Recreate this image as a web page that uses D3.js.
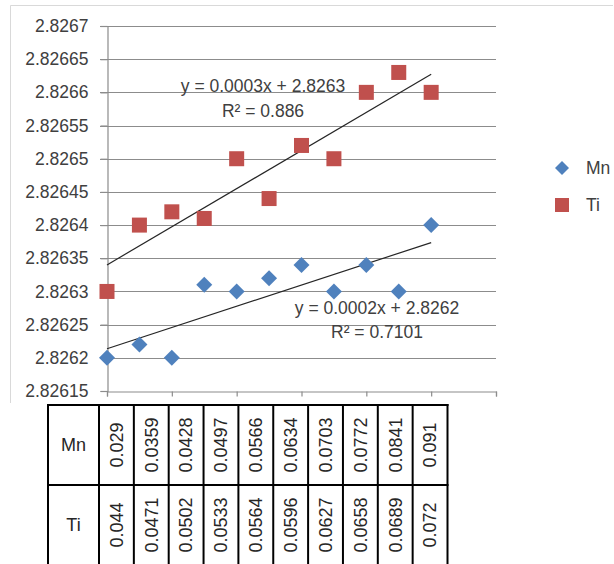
<!DOCTYPE html>
<html><head><meta charset="utf-8">
<script src="https://cdn.jsdelivr.net/npm/d3@7"></script>
<style>
html,body{margin:0;padding:0;background:#fff;}
svg{display:block;}
</style></head>
<body><svg id="c" width="614" height="564"></svg>
<script>
const xIndex = [0,1,2,3,4,5,6,7,8,9,10];
const mnY = [2.8262,2.82622,2.8262,2.82631,2.8263,2.82632,2.82634,2.8263,2.82634,2.8263,2.8264];
const tiY = [2.8263,2.8264,2.82642,2.82641,2.8265,2.82644,2.82652,2.8265,2.8266,2.82663,2.8266];
const yTicks = [2.82615,2.8262,2.82625,2.8263,2.82635,2.8264,2.82645,2.8265,2.82655,2.8266,2.82665,2.8267];
const yTickLabels = ["2.82615","2.8262","2.82625","2.8263","2.82635","2.8264","2.82645","2.8265","2.82655","2.8266","2.82665","2.8267"];
const xTicks = [0,2,4,6,8,10,12];
const seriesNames = ["Mn","Ti"];
const seriesColors = ["#4F81BD","#C0504D"];
const tableMn = ["0.029","0.0359","0.0428","0.0497","0.0566","0.0634","0.0703","0.0772","0.0841","0.091"];
const tableTi = ["0.044","0.0471","0.0502","0.0533","0.0564","0.0596","0.0627","0.0658","0.0689","0.072"];
const eqLabels = ["y = 0.0002x + 2.8262","y = 0.0003x + 2.8263"];
const r2Labels = ["R² = 0.7101","R² = 0.886"];

const svg = d3.select("#c");
const x = d3.scaleLinear().domain([0,12]).range([107,496]);
const y = d3.scaleLinear().domain([2.82615,2.8267]).range([391,26]);
const font = "'Liberation Sans', Arial, sans-serif";

// chart border (top/left)
svg.append("path").attr("d","M10.5,403 V5.5 H613").attr("fill","none").attr("stroke","#d9d9d9");

// gridlines
svg.append("g").selectAll("line").data(yTicks.slice(1)).join("line")
  .attr("x1",100).attr("x2",496).attr("y1",d=>Math.round(y(d))+0.5).attr("y2",d=>Math.round(y(d))+0.5)
  .attr("stroke","#8c8c8c").attr("stroke-width",1.2);

// y axis
const yAxis = svg.append("g").attr("transform","translate(107.5,0)")
  .call(d3.axisLeft(y).tickValues(yTicks).tickFormat((d,i)=>yTickLabels[i]).tickSize(7).tickPadding(12));
yAxis.select(".domain").attr("stroke","#8c8c8c").attr("stroke-width",1.2);
yAxis.selectAll(".tick line").attr("stroke","#8c8c8c").attr("stroke-width",1.2);
yAxis.selectAll("text").attr("font-family",font).attr("font-size",17.5).attr("fill","#404040");

// x axis
const xAxis = svg.append("g").attr("transform","translate(0,391.5)")
  .call(d3.axisBottom(x).tickValues(xTicks).tickFormat("").tickSizeInner(5).tickSizeOuter(5));
xAxis.select(".domain").attr("stroke","#8c8c8c").attr("stroke-width",1.2);
xAxis.selectAll(".tick line").attr("stroke","#8c8c8c").attr("stroke-width",1.2);

// trendlines
function fit(ys){
  const mx=d3.mean(xIndex), my=d3.mean(ys);
  let sxy=0,sxx=0; xIndex.forEach((xv,i)=>{sxy+=(xv-mx)*(ys[i]-my);sxx+=(xv-mx)**2;});
  const b=sxy/sxx; return {b, a:my-b*mx};
}
[mnY,tiY].forEach(ys=>{
  const f=fit(ys); const x0=d3.min(xIndex), x1=d3.max(xIndex);
  svg.append("line").attr("x1",x(x0)).attr("y1",y(f.a+f.b*x0)).attr("x2",x(x1)).attr("y2",y(f.a+f.b*x1))
    .attr("stroke","#262626").attr("stroke-width",1.2);
});

// trendline labels
const lab = svg.append("g").attr("font-family",font).attr("font-size",17.5).attr("fill","#404040").attr("text-anchor","middle");
lab.append("text").attr("x",263).attr("y",92).text(eqLabels[1]);
lab.append("text").attr("x",263).attr("y",117).text(r2Labels[1]);
lab.append("text").attr("x",377).attr("y",314).text(eqLabels[0]);
lab.append("text").attr("x",377).attr("y",338).text(r2Labels[0]);

// markers
const diamond = "M0,-8L8,0L0,8L-8,0Z";
svg.append("g").selectAll("path").data(mnY).join("path")
  .attr("d",diamond).attr("transform",(d,i)=>`translate(${x(xIndex[i])},${y(d)})`).attr("fill",seriesColors[0]);
svg.append("g").selectAll("rect").data(tiY).join("rect")
  .attr("x",(d,i)=>x(xIndex[i])-7.5).attr("y",d=>y(d)-7.5).attr("width",15).attr("height",15).attr("fill",seriesColors[1]);

// legend
const leg = svg.append("g").attr("font-family",font).attr("font-size",17.5).attr("fill","#404040");
leg.append("path").attr("d","M0,-7L7,0L0,7L-7,0Z").attr("transform","translate(562,168)").attr("fill",seriesColors[0]);
leg.append("rect").attr("x",555).attr("y",198).attr("width",14).attr("height",14).attr("fill",seriesColors[1]);
leg.append("text").attr("x",586).attr("y",174).text(seriesNames[0]);
leg.append("text").attr("x",586).attr("y",211).text(seriesNames[1]);

// data table
const tx0=48, hdrW=51, colW=(447.5-99)/10, ty0=405, rowH=80;
const tbl = svg.append("g");
const rows=[tableMn,tableTi];
rows.forEach((vals,r)=>{
  const yc = ty0+rowH*r+rowH/2;
  tbl.append("text").attr("x",tx0+hdrW/2).attr("y",yc).attr("dy","0.35em").attr("text-anchor","middle")
    .attr("font-family",font).attr("font-size",18).attr("fill","#262626").text(seriesNames[r]);
  vals.forEach((v,i)=>{
    const xc = tx0+hdrW+colW*i+colW/2;
    tbl.append("text").attr("transform",`translate(${xc},${yc}) rotate(-90)`).attr("dy","0.35em")
      .attr("text-anchor","middle").attr("font-family",font).attr("font-size",18).attr("fill","#262626").text(v);
  });
});
const lines=[];
for(let i=0;i<=11;i++){ const xv = i===0?tx0:tx0+hdrW+colW*(i-1); lines.push([xv,ty0,xv,ty0+rowH*2]); }
[0,1,2].forEach(r=>lines.push([tx0,ty0+rowH*r,tx0+hdrW+colW*10,ty0+rowH*r]));
tbl.selectAll("line").data(lines).join("line")
  .attr("x1",d=>d[0]).attr("y1",d=>d[1]).attr("x2",d=>d[2]).attr("y2",d=>d[3])
  .attr("stroke","#000").attr("stroke-width",2).attr("stroke-linecap","square");
</script></body></html>
